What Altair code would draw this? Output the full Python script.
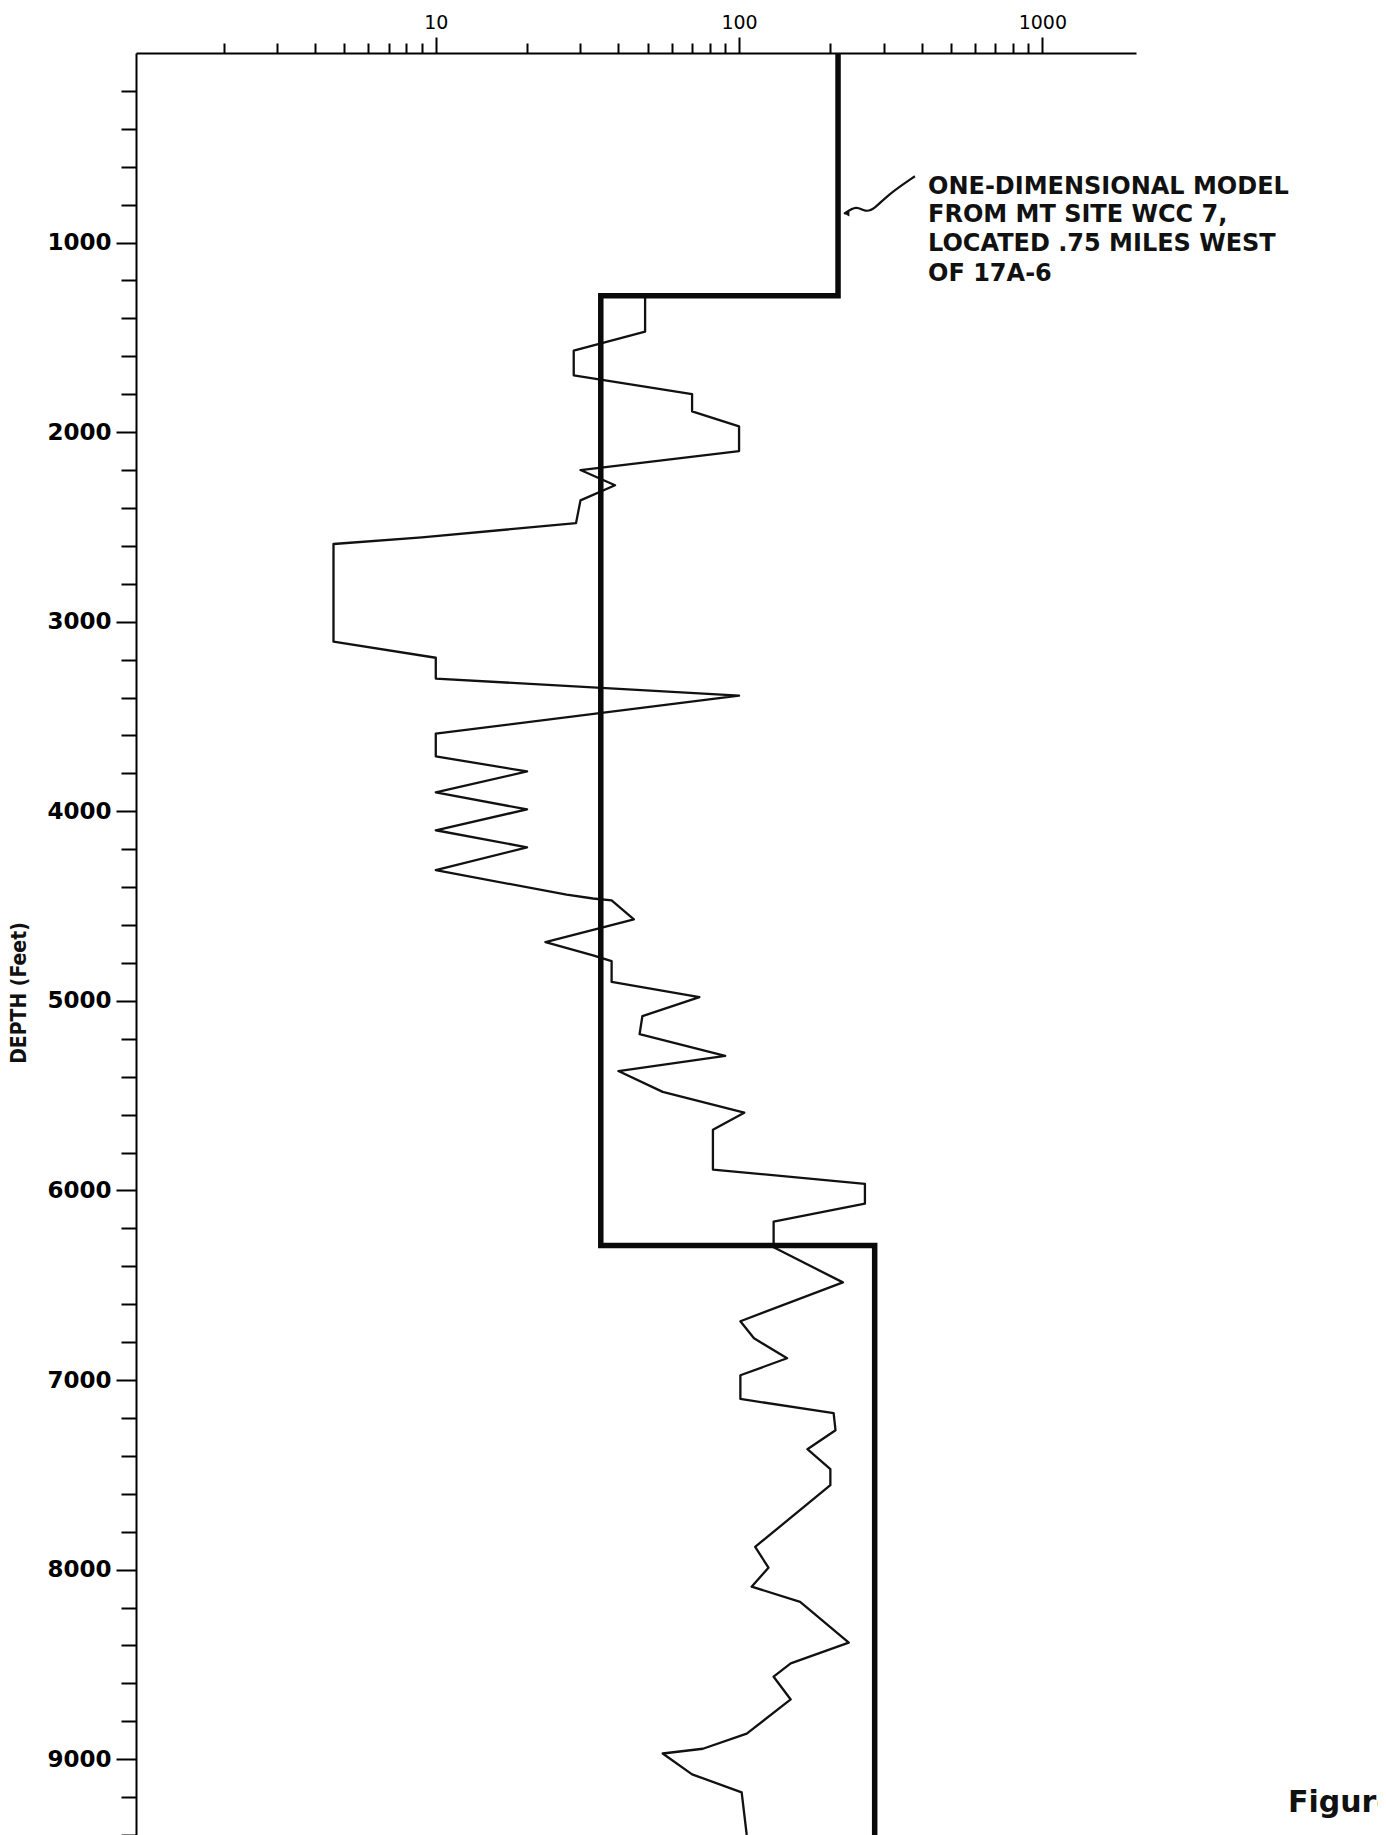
import altair as alt
import pandas as pd

# ---- data ----
# thin trace: resistivity (ohm-m, log axis) vs depth (feet)
trace_res = [49, 49, 28.5, 28.5, 70, 70, 100, 100, 30, 39, 30, 29, 9, 4.6, 4.6,
             10, 10, 100, 10, 10, 20, 10, 20, 10, 20, 10, 27, 33, 38, 45,
             23, 33, 38, 38, 74, 48, 47, 90, 40, 56, 104, 82, 82, 260, 260,
             130, 130, 220, 101, 112, 144, 101, 101, 205, 208, 168, 200, 200,
             113, 125, 110, 159, 230, 148, 130, 148, 106, 76, 56, 70, 102, 106]
trace_depth = [1280, 1470, 1570, 1700, 1800, 1890, 1970, 2100, 2200, 2280, 2360,
               2480, 2555, 2590, 3105, 3190, 3300, 3390, 3590, 3710, 3790, 3900,
               3990, 4100, 4190, 4310, 4440, 4460, 4470, 4570, 4690, 4760, 4790,
               4900, 4980, 5080, 5175, 5290, 5370, 5480, 5590, 5680, 5890, 5965,
               6070, 6165, 6300, 6485, 6690, 6780, 6885, 6975, 7100, 7175, 7265,
               7365, 7470, 7555, 7880, 7990, 8090, 8170, 8385, 8495, 8565, 8685,
               8865, 8945, 8970, 9080, 9175, 9400]

# one-dimensional MT model (thick line)
model_res = [212, 212, 35, 35, 280, 280]
model_depth = [0, 1280, 1280, 6290, 6290, 9400]

# leader squiggle from the annotation to the model line (with arrow tip)
leader_res = [222, 244, 261, 280, 308, 380]
leader_depth = [849, 803, 841, 822, 750, 650]
arrow_res = [226]
arrow_depth = [845]

# axis ticks
x_ticks = [2, 3, 4, 5, 6, 7, 8, 9, 10, 20, 30, 40, 50, 60, 70, 80, 90, 100,
           200, 300, 400, 500, 600, 700, 800, 900, 1000]
y_ticks = list(range(200, 9401, 200))

annot_lines = ["ONE-DIMENSIONAL MODEL", "FROM MT SITE WCC 7,",
               "LOCATED .75 MILES WEST", "OF 17A-6"]
y_title = "DEPTH   (Feet)"
fig_text = "Figure"

assert len(trace_res) == len(trace_depth)

trace_df = pd.DataFrame({"res": trace_res, "depth": trace_depth,
                         "seq": list(range(len(trace_res)))})
model_df = pd.DataFrame({"res": model_res, "depth": model_depth,
                         "seq": list(range(len(model_res)))})
leader_df = pd.DataFrame({"res": leader_res, "depth": leader_depth,
                          "seq": list(range(len(leader_res)))})
arrow_df = pd.DataFrame({"res": arrow_res, "depth": arrow_depth})

W, H = 1000, 1782
FONT = "DejaVu Sans"

xscale = alt.Scale(type="log", domain=[1.027, 2036], nice=False, zero=False)
yscale = alt.Scale(domain=[0, 9400], reverse=True, nice=False, zero=False)

major_x = "datum.value == 10 || datum.value == 100 || datum.value == 1000"
x_axis = alt.Axis(
    orient="top", values=x_ticks, tickCount=500, format="d", title=None, grid=False,
    labelExpr=f"({major_x}) ? datum.label : ''",
    tickSize={"condition": {"test": major_x, "value": 16}, "value": 10},
    tickWidth=2, tickColor="black", domainColor="black", domainWidth=2,
    labelFont=FONT, labelFontSize=19, labelColor="black", labelPadding=5,
    labelOverlap=False, labelFlush=False,
)
major_y = "datum.value % 1000 == 0"
y_axis = alt.Axis(
    orient="left", values=y_ticks, tickCount=500, format="d", title=None, grid=False,
    labelExpr=f"({major_y}) ? datum.label : ''",
    tickSize={"condition": {"test": major_y, "value": 20}, "value": 15},
    tickWidth=2, tickColor="black", domainColor="black", domainWidth=2,
    labelFont=FONT, labelFontSize=23, labelFontWeight="bold", labelColor="black",
    labelPadding=5, labelOverlap=False, labelFlush=False,
)

trace = alt.Chart(trace_df).mark_line(
    color="#111111", strokeWidth=2.3, strokeJoin="round", clip=True
).encode(
    x=alt.X("res:Q", scale=xscale, axis=x_axis),
    y=alt.Y("depth:Q", scale=yscale, axis=y_axis),
    order="seq:Q",
)

model = alt.Chart(model_df).mark_line(
    color="#0a0a0a", strokeWidth=5.5, strokeJoin="miter", clip=True
).encode(
    x=alt.X("res:Q", scale=xscale),
    y=alt.Y("depth:Q", scale=yscale),
    order="seq:Q",
)

leader = alt.Chart(leader_df).mark_line(
    color="#111111", strokeWidth=2.2, interpolate="basis"
).encode(
    x=alt.X("res:Q", scale=xscale),
    y=alt.Y("depth:Q", scale=yscale),
    order="seq:Q",
)

arrow = alt.Chart(arrow_df).mark_point(
    shape="triangle-left", filled=True, size=45, color="#111111", opacity=1
).encode(
    x=alt.X("res:Q", scale=xscale),
    y=alt.Y("depth:Q", scale=yscale),
)

one = pd.DataFrame({"k": [0]})
text_layers = []
line_y = [134, 162, 190.5, 221]
for txt, yy in zip(annot_lines, line_y):
    text_layers.append(
        alt.Chart(one).mark_text(
            align="left", baseline="middle", font=FONT, fontSize=24,
            fontWeight="bold", color="#111111"
        ).encode(x=alt.value(792), y=alt.value(yy), text=alt.value(txt))
    )

title_mark = alt.Chart(one).mark_text(
    align="center", baseline="middle", font="DejaVu Sans Condensed", fontSize=21,
    fontWeight="bold", angle=270, color="#111111"
).encode(x=alt.value(-116), y=alt.value(940), text=alt.value(y_title))

fig_mark = alt.Chart(one).mark_text(
    align="left", baseline="middle", font=FONT, fontSize=30,
    fontWeight="bold", color="#111111"
).encode(x=alt.value(1152), y=alt.value(1750), text=alt.value(fig_text))

chart = alt.layer(
    trace, model, leader, arrow, title_mark, fig_mark, *text_layers
).properties(
    width=W, height=H,
    autosize=alt.AutoSizeParams(type="none"),
    padding={"left": 128, "top": 45, "right": 242, "bottom": 0},
    background="white",
).configure_view(stroke=None)

chart.save("out.html", embed_options={"renderer": "svg", "actions": False})
